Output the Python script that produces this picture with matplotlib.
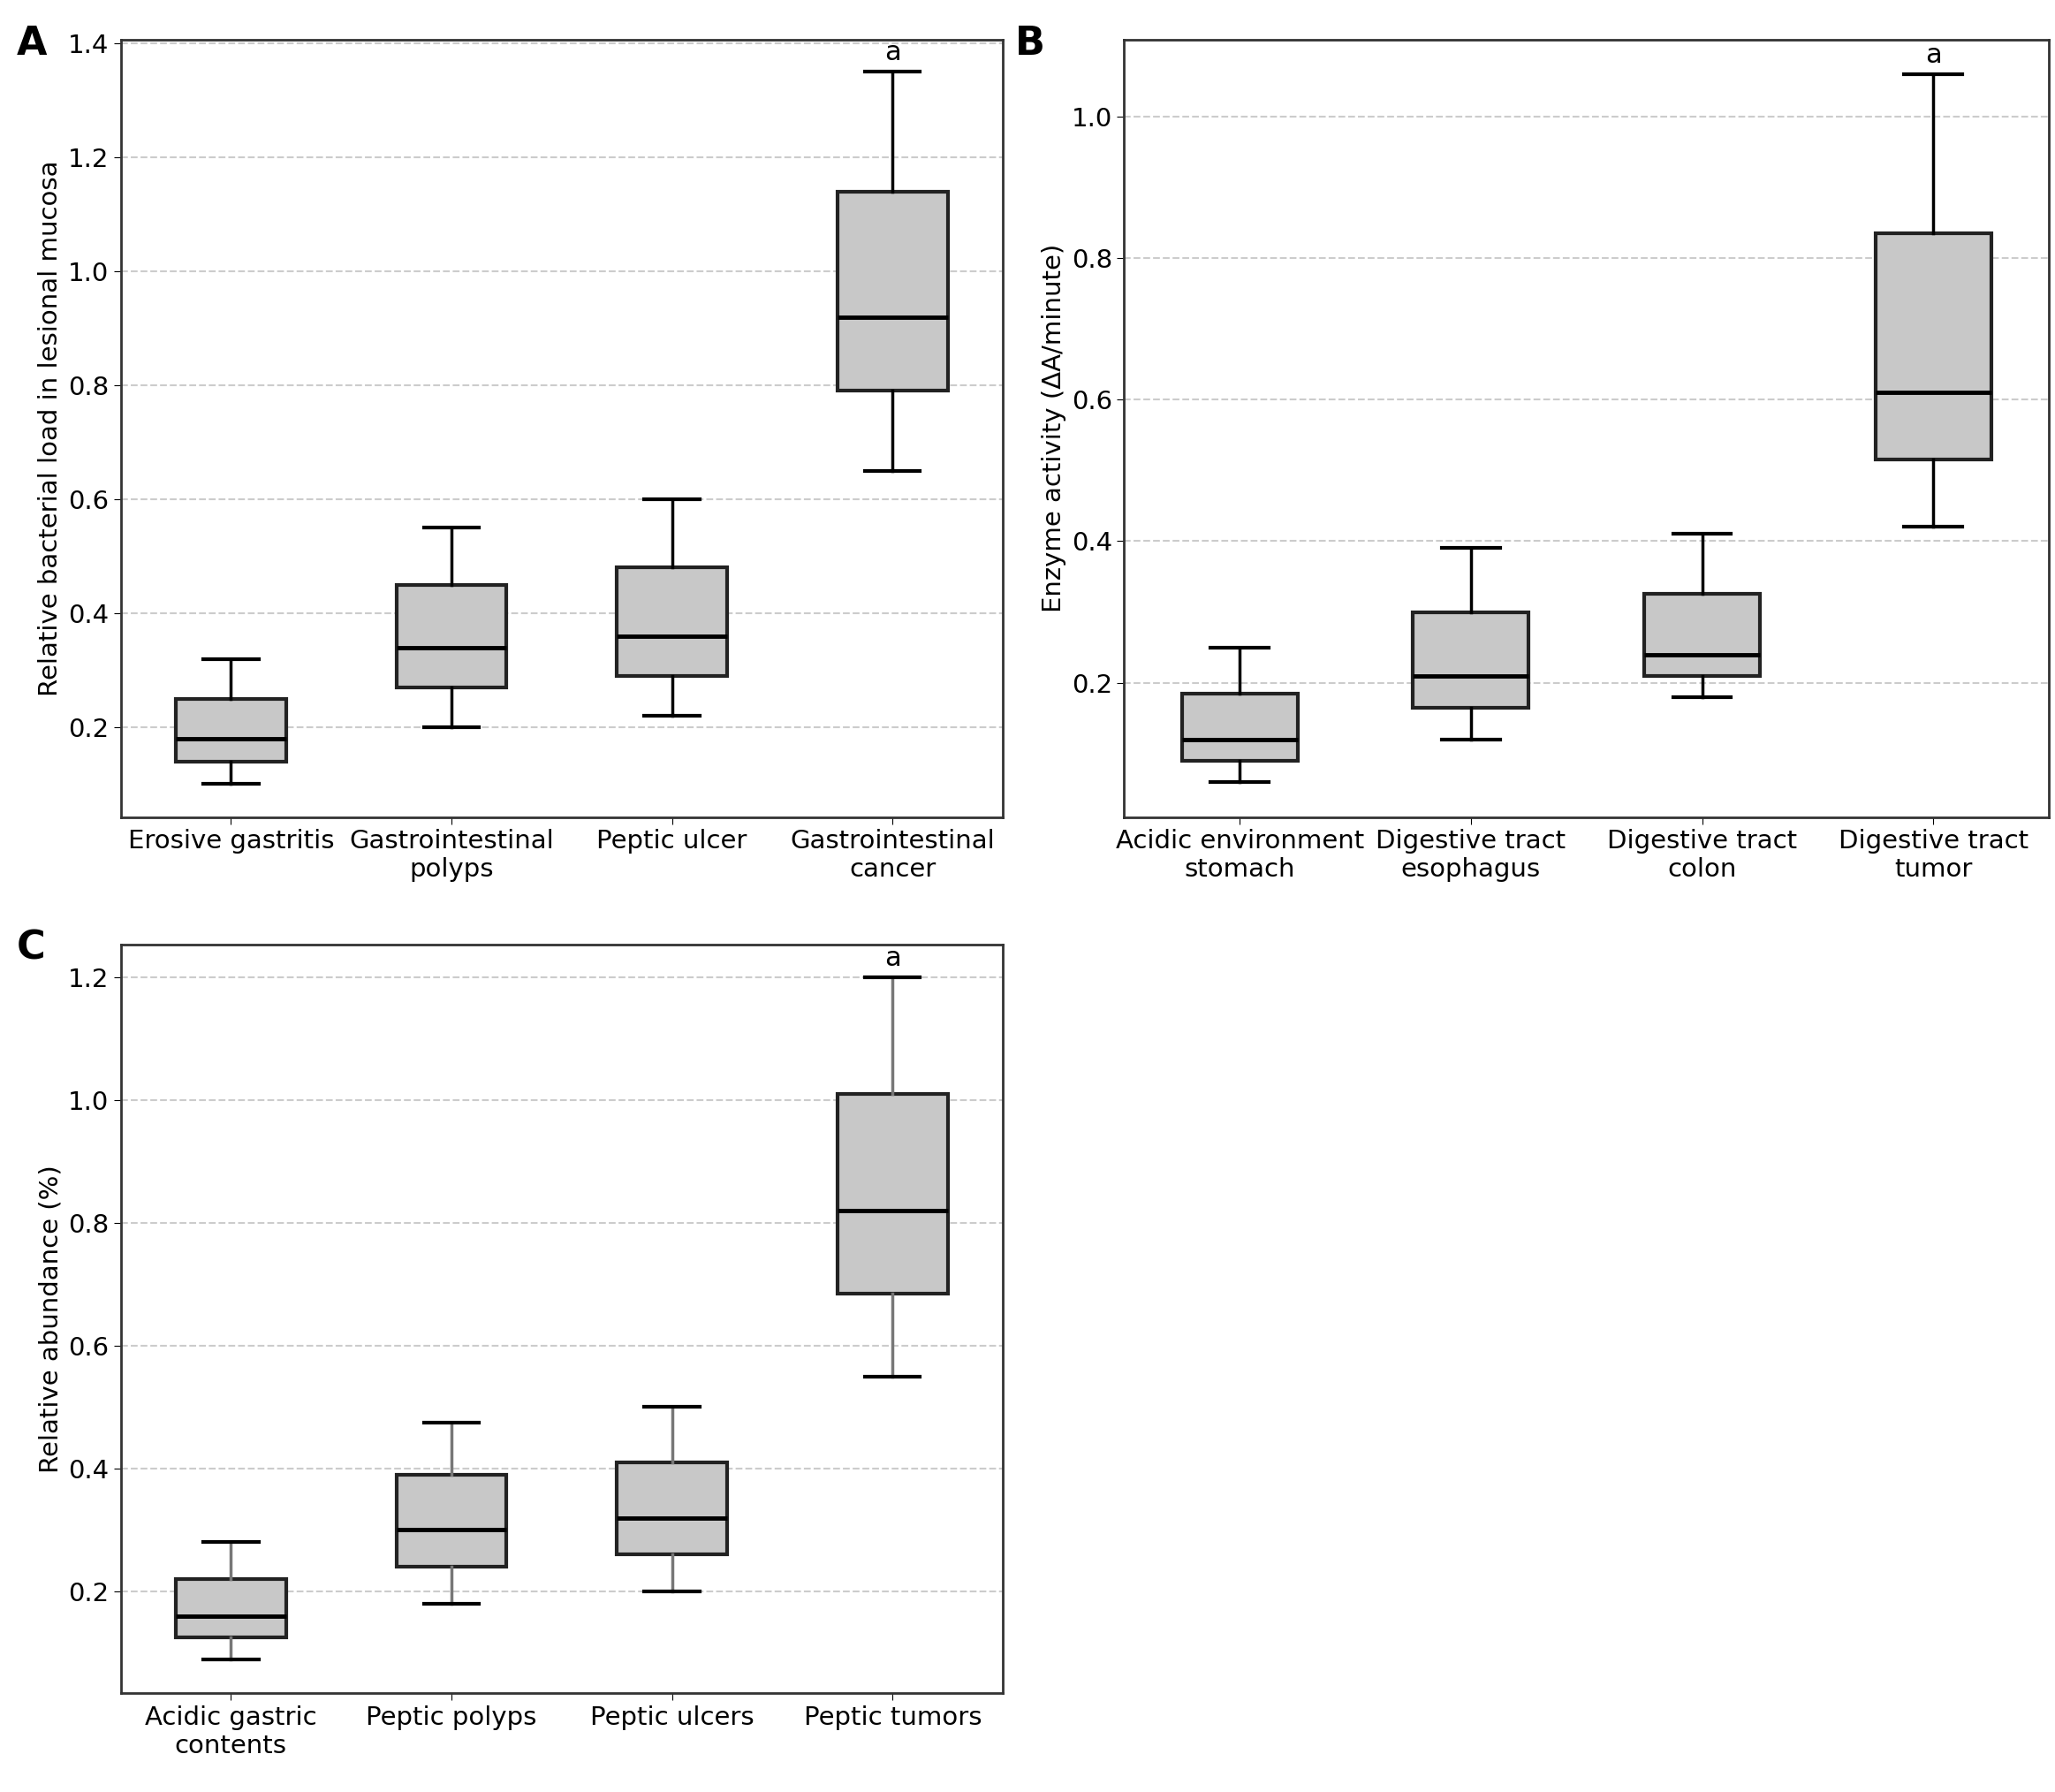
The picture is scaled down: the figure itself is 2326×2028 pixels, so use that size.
import matplotlib.pyplot as plt

plt.rcParams['font.family'] = ['DejaVu Sans']

labels_a = ['Erosive gastritis', 'Gastrointestinal\npolyps', 'Peptic ulcer', 'Gastrointestinal\ncancer']
# whislo, q1, med, q3, whishi
stats_a = [[0.10, 0.14, 0.18, 0.25, 0.32],
           [0.20, 0.27, 0.34, 0.45, 0.55],
           [0.22, 0.29, 0.36, 0.48, 0.60],
           [0.65, 0.79, 0.92, 1.14, 1.35]]

labels_b = ['Acidic environment\nstomach', 'Digestive tract\nesophagus', 'Digestive tract\ncolon', 'Digestive tract\ntumor']
stats_b = [[0.06, 0.09, 0.12, 0.185, 0.25],
           [0.12, 0.165, 0.21, 0.30, 0.39],
           [0.18, 0.21, 0.24, 0.325, 0.41],
           [0.42, 0.515, 0.61, 0.835, 1.06]]

labels_c = ['Acidic gastric\ncontents', 'Peptic polyps', 'Peptic ulcers', 'Peptic tumors']
stats_c = [[0.09, 0.125, 0.16, 0.22, 0.28],
           [0.18, 0.24, 0.30, 0.39, 0.475],
           [0.20, 0.26, 0.32, 0.41, 0.50],
           [0.55, 0.685, 0.82, 1.01, 1.20]]

fig = plt.figure(figsize=(23.26, 20.28), dpi=100)


def panel(rect, stats, labels, ylabel, ylim, yticks, letter, whisk_color='black'):
    ax = fig.add_axes(rect)
    bx = [dict(whislo=s[0], q1=s[1], med=s[2], q3=s[3], whishi=s[4], fliers=[]) for s in stats]
    ax.bxp(bx, widths=0.5, patch_artist=True, showfliers=False,
           boxprops=dict(facecolor='#c8c8c8', edgecolor='#222222', linewidth=3),
           medianprops=dict(color='black', linewidth=3.5),
           whiskerprops=dict(color=whisk_color, linewidth=2.5),
           capprops=dict(color='black', linewidth=3))
    ax.set_ylim(*ylim)
    ax.set_xlim(0.5, 4.5)
    ax.set_yticks(yticks)
    ax.set_yticklabels([f'{t:.1f}' for t in yticks])
    ax.set_xticks(range(1, 5))
    ax.set_xticklabels(labels)
    ax.tick_params(labelsize=21, length=6)
    ax.yaxis.grid(True, linestyle='--', color='#cccccc', linewidth=1.5)
    ax.set_axisbelow(True)
    for sp in ax.spines.values():
        sp.set_linewidth(2)
        sp.set_color('#333333')
    ax.set_ylabel(ylabel, fontsize=21)
    ax.text(4, stats[3][4] + (ylim[1] - ylim[0]) * 0.008, 'a', ha='center', va='bottom', fontsize=22)
    ax.text(-0.118, 0.995, letter, transform=ax.transAxes, fontsize=32, fontweight='bold', va='center')
    return ax


panel([0.0587, 0.544, 0.4293, 0.434], stats_a, labels_a,
      'Relative bacterial load in lesional mucosa', (0.042, 1.407),
      [0.2, 0.4, 0.6, 0.8, 1.0, 1.2, 1.4], 'A')
panel([0.547, 0.544, 0.45, 0.434], stats_b, labels_b,
      'Enzyme activity (\u0394A/minute)', (0.01, 1.109),
      [0.2, 0.4, 0.6, 0.8, 1.0], 'B')
panel([0.0587, 0.055, 0.4293, 0.418], stats_c, labels_c,
      'Relative abundance (%)', (0.034, 1.253),
      [0.2, 0.4, 0.6, 0.8, 1.0, 1.2], 'C', whisk_color='#777777')

fig.savefig('out.png', dpi=100)
